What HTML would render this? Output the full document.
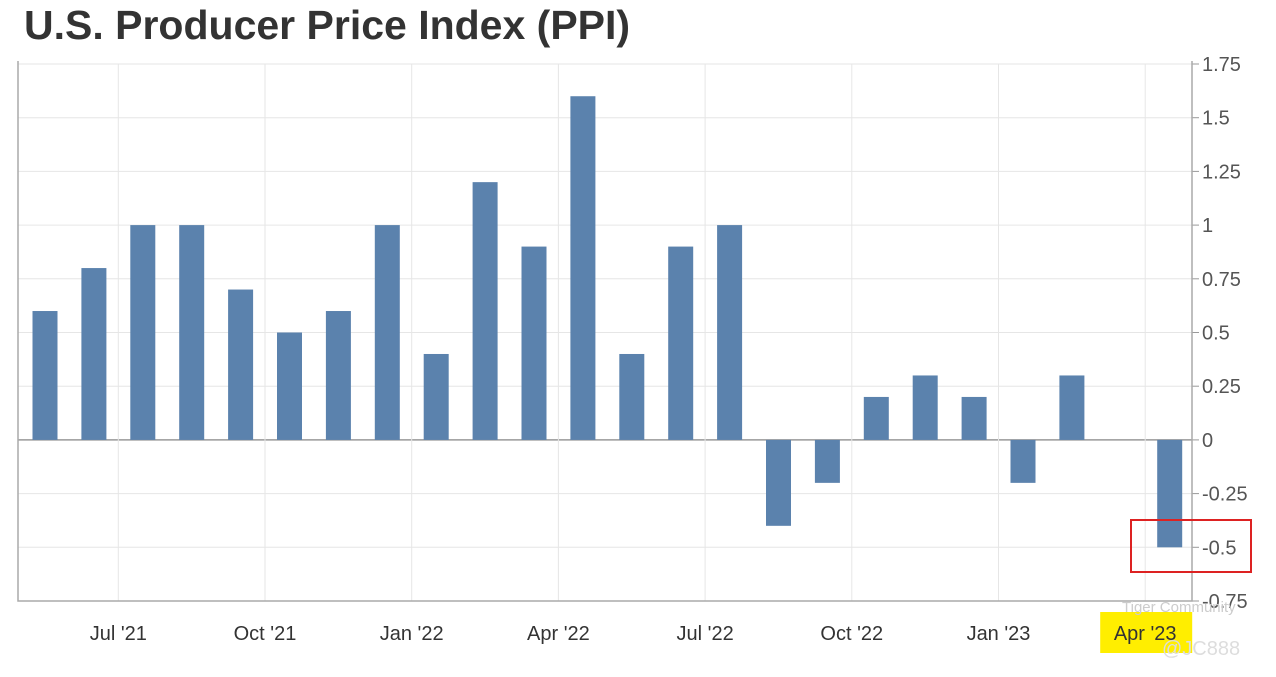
<!DOCTYPE html>
<html><head><meta charset="utf-8"><style>
body{margin:0;background:#fff;width:1276px;height:677px;overflow:hidden;font-family:"Liberation Sans",sans-serif}
#title{position:absolute;left:24px;top:2px;font-size:41px;font-weight:bold;color:#333}
</style></head><body>
<div id="title">U.S. Producer Price Index (PPI)</div>
<svg id="chart" width="1276" height="677" style="position:absolute;left:0;top:0"></svg>
<script>
const months=["May '21","Jun '21","Jul '21","Aug '21","Sep '21","Oct '21","Nov '21","Dec '21","Jan '22","Feb '22","Mar '22","Apr '22","May '22","Jun '22","Jul '22","Aug '22","Sep '22","Oct '22","Nov '22","Dec '22","Jan '23","Feb '23","Mar '23","Apr '23"];
const values=[0.6,0.8,1.0,1.0,0.7,0.5,0.6,1.0,0.4,1.2,0.9,1.6,0.4,0.9,1.0,-0.4,-0.2,0.2,0.3,0.2,-0.2,0.3,0,-0.5];
const yTicks=[1.75,1.5,1.25,1,0.75,0.5,0.25,0,-0.25,-0.5,-0.75];
const xLabelIdx=[2,5,8,11,14,17,20,23];
const NS="http://www.w3.org/2000/svg",svg=document.getElementById('chart');
const L=18,R=1192,T=64,B=601,yMin=-0.75,yMax=1.75,step=48.9,x0=20.5;
const y=v=>T+(yMax-v)/(yMax-yMin)*(B-T);
const xs=i=>x0+i*step;
function mk(t,a,txt){const e=document.createElementNS(NS,t);for(const k in a)e.setAttribute(k,a[k]);if(txt!=null)e.textContent=txt;svg.appendChild(e);return e;}
yTicks.forEach(v=>{
 const g=mk('line',{x1:L,x2:R,y1:y(v),y2:y(v),stroke:v===0?'#999':'#e6e6e6','stroke-width':v===0?1.5:1});
 
 const tk=mk('line',{x1:R,x2:R+7,y1:y(v),y2:y(v),stroke:'#999'});
 
 const t=mk('text',{x:R+10,y:y(v)+7,'font-size':20,fill:'#555'},String(v));
 
});
xLabelIdx.forEach(i=>{
 const g=mk('line',{x1:xs(i),x2:xs(i),y1:T,y2:B,stroke:'#e6e6e6'});
 
});
const hl=mk('rect',{x:xs(23)-45,y:612,width:92,height:41,fill:'#ffee00'});

xLabelIdx.forEach(i=>{
 const t=mk('text',{x:xs(i),y:640,'font-size':20,fill:'#333','text-anchor':'middle'},months[i]);
 
});
const ax=mk('path',{d:`M${L} ${T-3}V${B}H${R}V${T-3}`,fill:'none',stroke:'#aaa','stroke-width':1.5});

values.forEach((v,i)=>{
 const c=xs(i)+24.5,y1=Math.min(y(v),y(0)),h=Math.abs(y(v)-y(0));
 const b=mk('rect',{x:c-12.5,y:y1,width:25,height:h,fill:'#5b82ad'});
 
});
const box=mk('rect',{x:1131,y:520,width:120,height:52,fill:'none',stroke:'#d22','stroke-width':2});

const w1=mk('text',{x:1122,y:612,'font-size':15,fill:'#ccc'},'Tiger Community');

const w2=mk('text',{x:1162,y:655,'font-size':20,fill:'#ddd'},'@JC888');

</script>
</body></html>
